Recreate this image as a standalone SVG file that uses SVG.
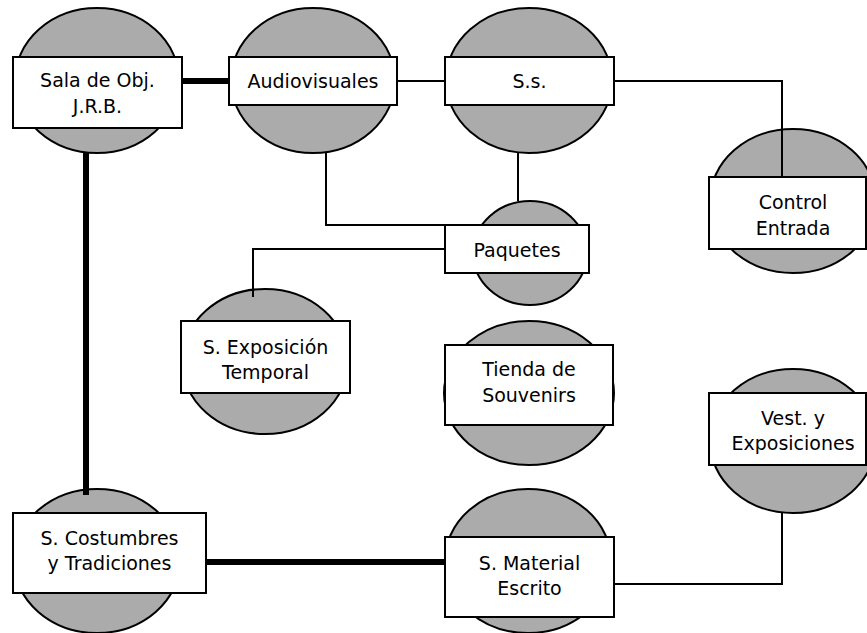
<svg xmlns="http://www.w3.org/2000/svg" width="867" height="633" viewBox="0 0 867 633">
<style>
.el{fill:#ababab;stroke:#000;stroke-width:2}
.bx{fill:#fff;stroke:#000;stroke-width:2}
.t{font-family:"DejaVu Sans",Verdana,sans-serif;font-size:19px;fill:#000;text-anchor:middle}
.thin{fill:none;stroke:#000;stroke-width:2}
.thick{fill:none;stroke:#000;stroke-width:6}
</style>
<rect x="0" y="0" width="867" height="633" fill="#fff"/>
<g id="sala">
<ellipse class="el" cx="97" cy="80.5" rx="82" ry="72.5"/>
<rect class="bx" x="13" y="57" width="169" height="71"/>
<text class="t" x="97.5" y="87">Sala de Obj.</text>
<text class="t" x="97.5" y="113">J.R.B.</text>
</g>
<g id="audiovisuales">
<ellipse class="el" cx="313" cy="80.5" rx="82" ry="72.5"/>
<rect class="bx" x="229" y="57" width="168" height="48"/>
<text class="t" x="313" y="88">Audiovisuales</text>
</g>
<g id="ss">
<ellipse class="el" cx="529" cy="80.5" rx="83" ry="72.5"/>
<rect class="bx" x="445" y="57" width="169" height="48"/>
<text class="t" x="529.5" y="88">S.s.</text>
</g>
<g id="control">
<ellipse class="el" cx="793" cy="201" rx="83" ry="72"/>
<rect class="bx" x="709" y="177" width="157" height="72"/>
<text class="t" x="793" y="209">Control</text>
<text class="t" x="793" y="235">Entrada</text>
</g>
<g id="paquetes">
<ellipse class="el" cx="530" cy="253" rx="57" ry="52"/>
<rect class="bx" x="445" y="225" width="144" height="48"/>
<text class="t" x="517" y="257">Paquetes</text>
</g>
<g id="exposicion">
<ellipse class="el" cx="265" cy="361.5" rx="83" ry="72.5"/>
<rect class="bx" x="181" y="321" width="169" height="72"/>
<text class="t" x="265.5" y="354">S. Exposición</text>
<text class="t" x="265.5" y="379">Temporal</text>
</g>
<g id="tienda">
<ellipse class="el" cx="529" cy="393" rx="85" ry="72"/>
<rect class="bx" x="445" y="345" width="168" height="80"/>
<text class="t" x="529" y="376">Tienda de</text>
<text class="t" x="529" y="402">Souvenirs</text>
</g>
<g id="vest">
<ellipse class="el" cx="793" cy="441" rx="83" ry="72"/>
<rect class="bx" x="709" y="393" width="157" height="72"/>
<text class="t" x="793" y="425">Vest. y</text>
<text class="t" x="793" y="450">Exposiciones</text>
</g>
<g id="costumbres">
<ellipse class="el" cx="97" cy="561" rx="83" ry="72"/>
<rect class="bx" x="13" y="513" width="193" height="80"/>
<text class="t" x="109.5" y="545">S. Costumbres</text>
<text class="t" x="109.5" y="570">y Tradiciones</text>
</g>
<g id="material">
<ellipse class="el" cx="528" cy="561" rx="83" ry="72"/>
<rect class="bx" x="445" y="537" width="169" height="80"/>
<text class="t" x="529.5" y="570">S. Material</text>
<text class="t" x="529.5" y="595">Escrito</text>
</g>
<g id="connectors">
<line class="thick" x1="183" y1="81" x2="228" y2="81"/>
<line class="thick" x1="86" y1="153" x2="86" y2="495"/>
<line class="thick" x1="207" y1="562" x2="444" y2="562"/>
<line class="thin" x1="397" y1="81" x2="445" y2="81"/>
<polyline class="thin" points="614,81 782,81 782,177"/>
<polyline class="thin" points="326,153 326,225 445,225"/>
<line class="thin" x1="518" y1="153" x2="518" y2="201"/>
<polyline class="thin" points="445,249 253,249 253,297"/>
<polyline class="thin" points="614,584 782,584 782,513"/>
</g>
</svg>
